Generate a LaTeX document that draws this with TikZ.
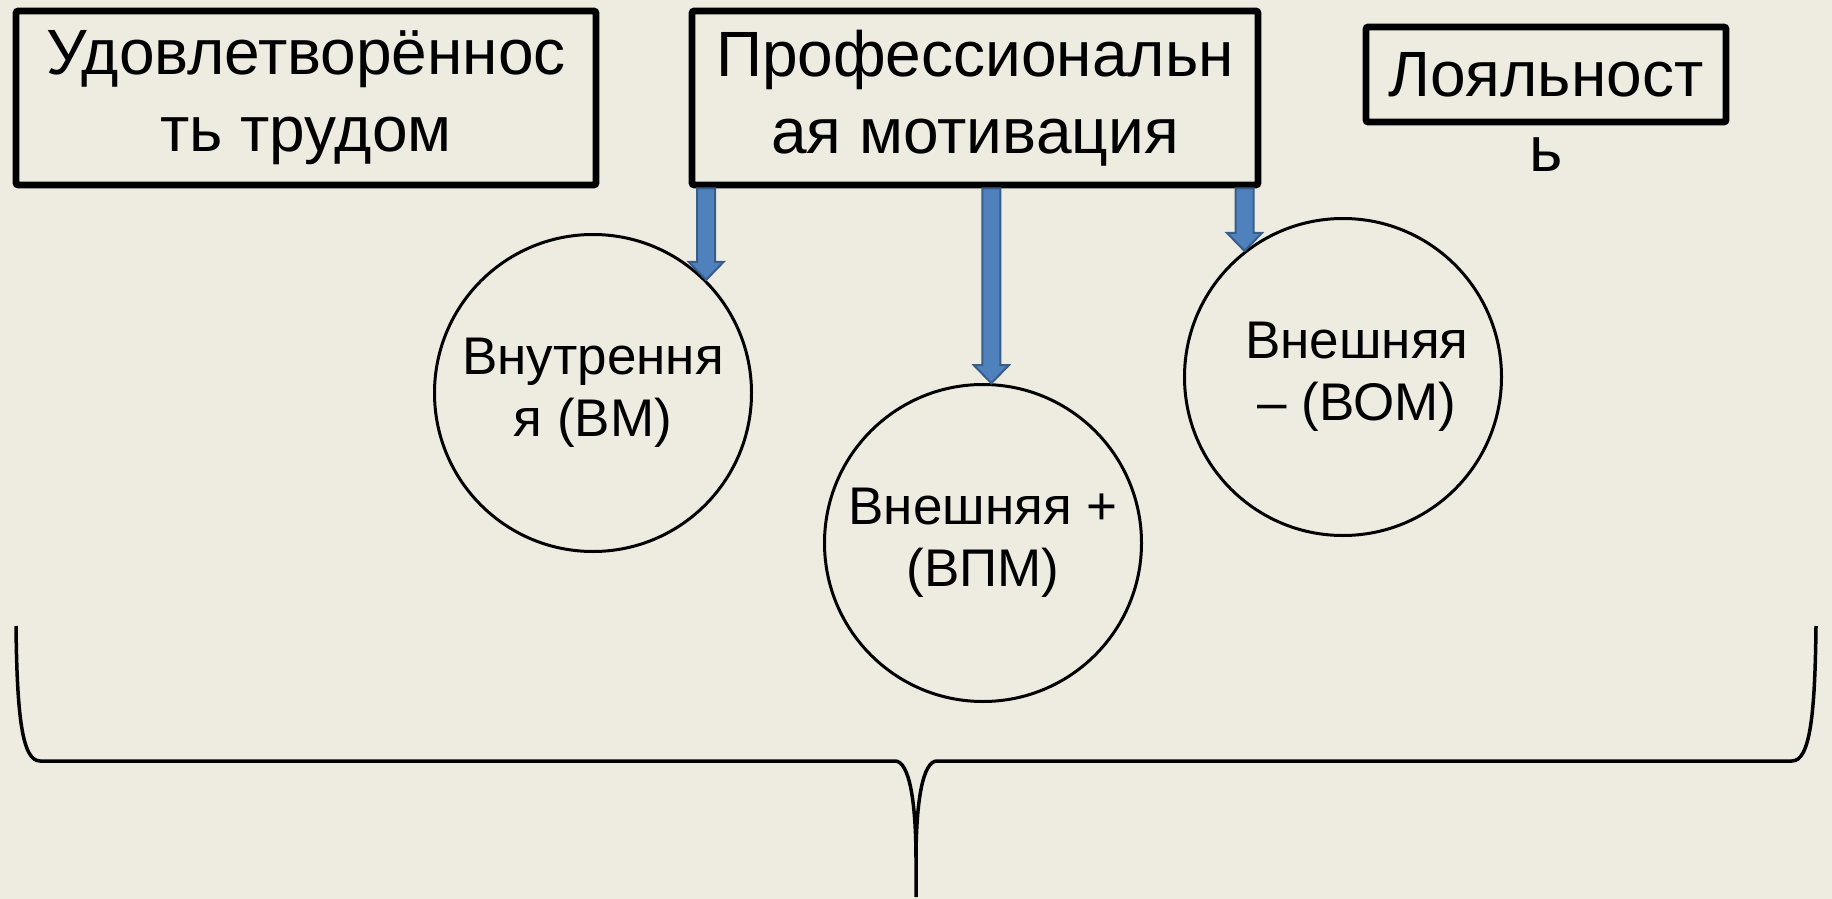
\documentclass[tikz,border=0pt]{standalone}
\usepackage{fontspec}
\setmainfont{Liberation Sans}
\usetikzlibrary{calc}
\definecolor{fon}{HTML}{EEECE1}
\definecolor{sinij}{HTML}{4F81BD}
\definecolor{sinijkraj}{HTML}{385D8A}
\tikzset{
  ramka/.style={draw,line width=3.3pt,rounded corners=1pt,align=center,inner sep=0pt,
    font=\fontsize{32pt}{38.5pt}\selectfont},
  krug/.style={draw,circle,line width=1.5pt,minimum size=158.5pt,inner sep=0pt,align=center,
    font=\fontsize{26.5pt}{31pt}\selectfont},
  strelka/.style={draw=sinijkraj,fill=sinij,line width=1pt,line join=miter},
  skobka/.style={line width=1.75pt}
}
\newcommand\strelkavniz[2]{%
  \draw[strelka] ($(#1)+(-9,0)$) -- ($(#2)+(-9,-18)$) -- ($(#2)+(-17.5,-18)$) -- (#2)
    -- ($(#2)+(17.5,-18)$) -- ($(#2)+(9,-18)$) -- ($(#1)+(9,0)$) -- cycle;}
\begin{document}
\begin{tikzpicture}[x=0.5pt,y=-0.5pt]
\fill[fon] (0,0) rectangle (1832,899);
\useasboundingbox (0,0) rectangle (1832,899);
\node[ramka,minimum width=290pt,minimum height=87pt] (udovl) at (306,98) {Удовлетворённос\\ть трудом};
\node[ramka,minimum width=283pt,minimum height=87pt] (motiv) at (975,98) {Профессиональн\\ая мотивация};
\node[ramka,minimum width=180pt,minimum height=47.5pt] (lojal) at (1546,74.5) {Лояльност};
\node[font=\fontsize{32pt}{38.5pt}\selectfont,anchor=base,inner sep=0pt] (lojalb) at ([yshift=-37.5pt]lojal.base) {ь};
\node[krug] (vm) at (593,393) {Внутрення\\я (ВМ)};
\node[krug] (vpm) at (983,543) {Внешняя +\\(ВПМ)};
\node[krug] (vom) at (1343,377) {\hspace*{14pt}Внешняя\\\hspace*{14pt}– (ВОМ)};
\coordinate (kvm) at (vm.45);
\coordinate (kvpm) at (vpm.87);
\coordinate (kvom) at (vom.128);
\coordinate (nvm) at (motiv.south -| kvm);
\coordinate (nvpm) at (motiv.south -| kvpm);
\coordinate (nvom) at (motiv.south -| kvom);
\strelkavniz{nvm}{kvm}
\strelkavniz{nvpm}{kvpm}
\strelkavniz{nvom}{kvom}
\draw[skobka] (16,626) .. controls (17,715) and (22,761) .. (40,761) -- (895,761)
  .. controls (909,761) and (916,800) .. (916,860) -- (916,897)
  (916,860) .. controls (916,800) and (923,761) .. (937,761) -- (1792,761)
  .. controls (1810,761) and (1815,715) .. (1816,626);
\end{tikzpicture}
\end{document}
